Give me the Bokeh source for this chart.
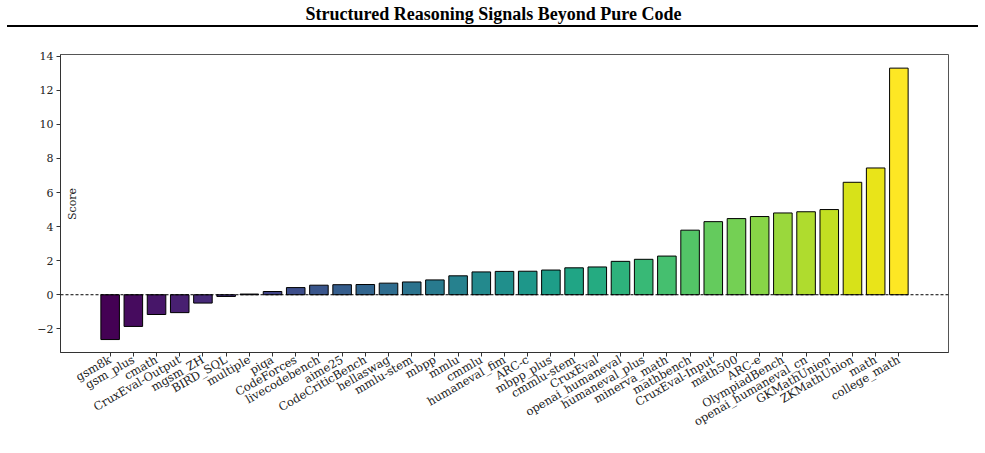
from math import pi
from bokeh.plotting import figure
from bokeh.models import (ColumnDataSource, FactorRange, Range1d, FixedTicker,
                          Span, Label, Div)
from bokeh.layouts import column
from bokeh.palettes import viridis
from bokeh.embed import file_html
from bokeh.resources import INLINE

title_text = "Structured Reasoning Signals Beyond Pure Code"
y_label = "Score"

categories = ["gsm8k", "gsm_plus", "cmath", "CruxEval-Output", "mgsm_ZH", "BIRD_SQL",
              "multiple", "piqa", "CodeForces", "livecodebench", "aime25",
              "CodeCriticBench", "hellaswag", "mmlu-stem", "mbpp", "mmlu", "cmmlu",
              "humaneval_fim", "ARC-c", "mbpp_plus", "cmmlu-stem", "CruxEval",
              "openai_humaneval", "humaneval_plus", "minerva_math", "mathbench",
              "CruxEval-Input", "math500", "ARC-e", "OlympiadBench",
              "openai_humaneval_cn", "GKMathUnion", "ZKMathUnion", "math",
              "college_math"]
scores = [-2.63, -1.86, -1.16, -1.05, -0.49, -0.10, 0.04, 0.19, 0.42, 0.56, 0.59,
          0.60, 0.68, 0.75, 0.87, 1.11, 1.34, 1.37, 1.38, 1.45, 1.58, 1.63, 1.96,
          2.08, 2.27, 3.79, 4.29, 4.47, 4.59, 4.80, 4.87, 5.00, 6.60, 7.44, 13.30]
y_ticks = [-2, 0, 2, 4, 6, 8, 10, 12, 14]

SERIF = "DejaVu Serif"

# ---- title strip (frame aligned with the chart frame: 60..948) ----
tp = figure(width=985, height=25, output_backend="svg", toolbar_location=None,
            x_range=Range1d(0, 888), y_range=Range1d(0, 25),
            x_axis_type=None, y_axis_type=None,
            min_border_left=60, min_border_right=37, min_border_top=0,
            min_border_bottom=0)
tp.outline_line_color = None
tp.grid.visible = False
tp.add_layout(Label(x=433, y=12, text=title_text, text_align="center",
                    text_baseline="alphabetic", text_font="Liberation Serif",
                    text_font_style="bold", text_font_size="18px", text_color="black"))

# ---- horizontal rule under the title ----
rule = Div(text="", width=971, height=2, margin=(0, 0, 0, 7),
           styles={"background-color": "black"})

# ---- main chart ----
colors = viridis(len(categories))
src = ColumnDataSource(dict(cat=categories, score=scores, color=colors))

p = figure(width=985, height=426, output_backend="svg", toolbar_location=None,
           x_range=FactorRange(factors=categories, range_padding=1.64,
                               range_padding_units="absolute"),
           y_range=Range1d(-3.39, 14.1),
           min_border_left=60, min_border_right=37, min_border_top=27,
           min_border_bottom=101)
p.vbar(x="cat", top="score", bottom=0, width=0.8, source=src,
       fill_color="color", line_color="black", line_width=1)
p.add_layout(Span(location=0, dimension="width", line_color="black",
                  line_width=1, line_dash="3 2"))

p.grid.visible = False
p.outline_line_color = "#555555"
p.outline_line_width = 1

for ax in (p.xaxis[0], p.yaxis[0]):
    ax.axis_line_color = "#333333"
    ax.major_tick_line_color = "#333333"
    ax.major_tick_out = 4
    ax.major_tick_in = 0
    ax.minor_tick_line_color = None
    ax.major_label_text_font = SERIF
    ax.major_label_text_color = "#222222"
    ax.major_label_standoff = 3

p.yaxis[0].major_label_text_font_size = "11px"
p.xaxis[0].major_label_text_font_size = "11.5px"
p.yaxis[0].ticker = FixedTicker(ticks=y_ticks)
p.yaxis[0].major_label_overrides = {-2: "\u22122"}
p.xaxis[0].major_label_orientation = pi / 6
p.xaxis[0].major_label_standoff = 2

p.add_layout(Label(x=-1.14, y=5.33, text=y_label, angle=pi / 2,
                   text_align="center", text_baseline="middle",
                   text_font=SERIF, text_font_size="11px", text_color="#222222"))

layout = column(tp, rule, p, spacing=0)
open("out.html", "w").write(file_html(layout, INLINE))
